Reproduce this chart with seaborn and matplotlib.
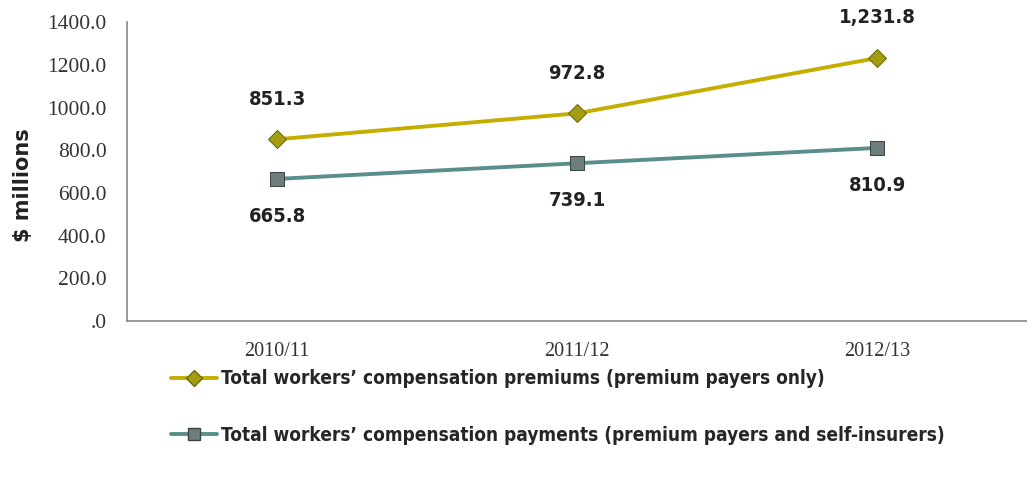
import matplotlib
matplotlib.use("Agg")
import matplotlib.pyplot as plt
import seaborn as sns
import pandas as pd
from matplotlib.lines import Line2D
from matplotlib.font_manager import FontProperties

years = ["2010/11", "2011/12", "2012/13"]
premiums = [851.3, 972.8, 1231.8]
payments = [665.8, 739.1, 810.9]
premium_labels = ["851.3", "972.8", "1,231.8"]
payment_labels = ["665.8", "739.1", "810.9"]
series_names = [
    "Total workers\u2019 compensation premiums (premium payers only)",
    "Total workers\u2019 compensation payments (premium payers and self-insurers)",
]
y_ticks = [0, 200, 400, 600, 800, 1000, 1200, 1400]
y_tick_labels = [".0", "200.0", "400.0", "600.0", "800.0", "1000.0", "1200.0", "1400.0"]

sns.set_style("white")
plt.rcParams["font.family"] = ["DejaVu Sans"]

# condensed bold sans for labels, serif for tick labels
bold_cond = dict(family="DejaVu Sans", weight="bold", stretch="condensed")
serif = dict(family="Liberation Serif")

df = pd.DataFrame({
    "year": list(range(len(years))) * 2,
    "value": premiums + payments,
    "series": [series_names[0]] * len(years) + [series_names[1]] * len(years),
})

gold = "#C4AE00"
teal = "#5A8E8C"
gold_mk, gold_edge = "#A49C12", "#6E6A08"
teal_mk, teal_edge = "#6E7E7E", "#3A4646"

fig = plt.figure(figsize=(10.27, 4.8), dpi=100)
ax = fig.add_axes([0.124, 0.331, 0.876, 0.623])

sns.lineplot(data=df, x="year", y="value", hue="series", style="series",
             palette=[gold, teal], markers=["D", "s"], dashes=False,
             linewidth=2.8, markersize=9, legend=False, ax=ax)
ax.lines[0].set_markerfacecolor(gold_mk)
ax.lines[0].set_markeredgecolor(gold_edge)
ax.lines[1].set_markerfacecolor(teal_mk)
ax.lines[1].set_markeredgecolor(teal_edge)
ax.lines[1].set_markersize(10)

ax.set_xlim(-0.5, 2.5)
ax.set_ylim(0, 1400)
ax.set_yticks(y_ticks)
ax.set_yticklabels(y_tick_labels, fontsize=15.5, color="#333333", **serif)
ax.set_xticks(range(len(years)))
ax.set_xticklabels(years, fontsize=14.5, color="#333333", **serif)
ax.set_xticks([0.5, 1.5], minor=True)
ax.tick_params(axis="x", which="major", length=0, pad=15)
ax.tick_params(axis="x", which="minor", length=5, color="#888888", width=1)
ax.tick_params(axis="y", length=5, color="#888888", width=1, pad=10)
ax.set_xlabel("")
ax.set_ylabel("$ millions", fontsize=15, family="DejaVu Sans", weight="bold",
              color="#222222")
ax.yaxis.set_label_coords(-0.105, 0.455)

for side in ["top", "right"]:
    ax.spines[side].set_visible(False)
for side in ["left", "bottom"]:
    ax.spines[side].set_color("#888888")
    ax.spines[side].set_linewidth(1.2)

for i, (v, t) in enumerate(zip(premiums, premium_labels)):
    ax.annotate(t, (i, v), xytext=(0, 22), textcoords="offset points",
                ha="center", va="bottom", fontsize=14.5, color="#222222", **bold_cond)
for i, (v, t) in enumerate(zip(payments, payment_labels)):
    ax.annotate(t, (i, v), xytext=(0, -20), textcoords="offset points",
                ha="center", va="top", fontsize=14.5, color="#222222", **bold_cond)

handles = [
    Line2D([], [], color=gold, lw=2.8, marker="D", markersize=8,
           markerfacecolor=gold_mk, markeredgecolor=gold_edge),
    Line2D([], [], color=teal, lw=2.8, marker="s", markersize=9,
           markerfacecolor=teal_mk, markeredgecolor=teal_edge),
]
fig.legend(handles, series_names, loc="upper left", bbox_to_anchor=(0.15, 0.266),
           frameon=False, prop=FontProperties(size=13.7, **bold_cond),
           handlelength=2.4, handletextpad=0.2, labelspacing=1.95)

fig.savefig("out.png", dpi=100, facecolor="white")
